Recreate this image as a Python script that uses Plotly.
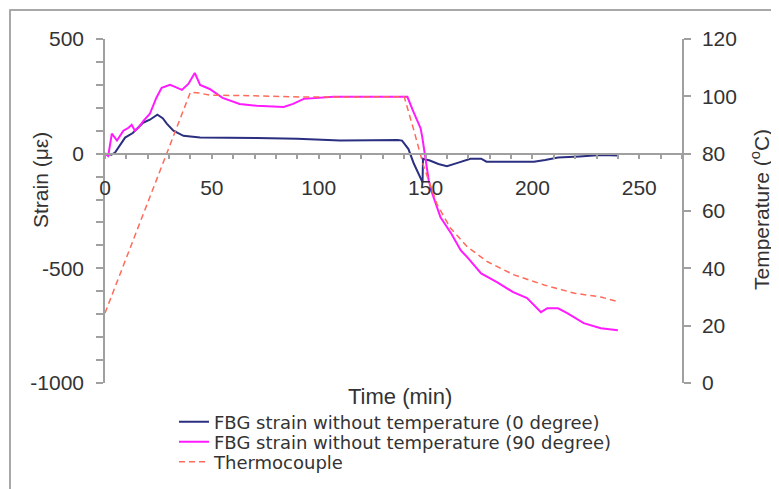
import plotly.graph_objects as go

# ---------------- data ----------------
t_fbg0 = [0, 3, 4.7, 7, 9.4, 13, 17.8, 21, 24.5, 27, 29, 32, 36.7, 44.5, 55, 71, 90,
          110, 125, 137, 139, 142, 144.5, 147, 148.6, 148.8, 152, 156, 160, 165, 171,
          176, 178.5, 190, 200.7, 206, 212, 222, 232, 240]
s_fbg0 = [0, -5, 5, 35, 70, 90, 135, 148, 170, 155, 130, 100, 78, 70, 70, 68, 65,
          57, 58, 60, 57, 20, -43, -90, -125, -22, -30, -45, -55, -40, -22,
          -22, -35, -35, -35, -28, -17, -12, -6, -8]

t_fbg90 = [0, 1.5, 3.2, 5.6, 8.6, 11, 12.5, 14, 15.6, 18, 21, 24, 26.5, 30.4, 32.8,
           36, 39, 42, 44.5, 49, 55, 63, 71, 83.6, 88, 93, 107, 130, 141.5, 144,
           147.7, 148.5, 150, 151.5, 153, 157, 162, 166.5, 169.6, 176, 183.6, 191,
           197.5, 204, 207, 212, 216.5, 224, 232, 240]
s_fbg90 = [0, -10, 87, 57, 100, 113, 126, 100, 113, 143, 174, 243, 287, 300, 291,
           278, 304, 352, 300, 282, 243, 217, 209, 204, 217, 239, 248, 248, 248, 190,
           110, 70, -17, -117, -170, -278, -348, -422, -452, -522, -561, -604,
           -630, -691, -674, -674, -696, -739, -761, -770]

t_tc = [0, 40, 44.5, 49, 70, 91, 120, 140, 144.5, 147.7, 149.2, 155.5, 161.7,
        169.5, 179, 191.4, 205.5, 219.7, 232, 240]
T_tc = [24.4, 101.5, 101.1, 100.4, 100.2, 99.8, 99.8, 99.9, 88.2, 80.1, 75.4, 62.1,
        54.0, 47.5, 42.3, 37.7, 34.2, 31.3, 30.0, 28.4]

names = ["FBG strain without temperature (0 degree)",
         "FBG strain without temperature (90 degree)",
         "Thermocouple"]

strain_ticks = [-1000, -500, 0, 500]
strain_tick_labels = ["-1000", "-500", "0", "500"]

# ---------------- layout constants (page pixels) ----------------
PAGE_W, PAGE_H = 779, 489
OFF = 8                       # default body margin of the html page
W, H = PAGE_W - OFF, PAGE_H - OFF
PLOT_L, PLOT_R, PLOT_T, PLOT_B = 105, 682, 39, 383   # page coords of plot area
ML, MR = PLOT_L - OFF, W - (PLOT_R - OFF)
MT, MB = PLOT_T - OFF, H - (PLOT_B - OFF)
PW, PH = PLOT_R - PLOT_L, PLOT_B - PLOT_T
FONT = "Liberation Sans, Arial, sans-serif"
LEG_FONT = "DejaVu Sans, Liberation Sans, sans-serif"
AX = "#a0a0a0"
TXT = "#333333"


def px_x(px):
    return (px - PLOT_L) / PW


def px_y(py):
    return (PLOT_B - py) / PH


fig = go.Figure()
fig.add_trace(go.Scatter(x=t_fbg0, y=s_fbg0, name=names[0], mode="lines",
                         legend="legend", line=dict(color="#2b2f80", width=2)))
fig.add_trace(go.Scatter(x=t_fbg90, y=s_fbg90, name=names[1], mode="lines",
                         legend="legend2", line=dict(color="#ff1aff", width=2)))
fig.add_trace(go.Scatter(x=t_tc, y=T_tc, name=names[2], mode="lines", yaxis="y2",
                         legend="legend3",
                         line=dict(color="#ff6a5a", width=1.5, dash="6px,4px")))

leg_common = dict(xanchor="left", yanchor="middle", bgcolor="rgba(0,0,0,0)",
                  font=dict(family=LEG_FONT, size=18, color=TXT), borderwidth=0)

fig.update_layout(
    width=W, height=H,
    margin=dict(l=ML, r=MR, t=MT, b=MB, pad=0, autoexpand=False),
    paper_bgcolor="white", plot_bgcolor="white",
    font=dict(family=FONT, size=21, color=TXT),
    xaxis=dict(range=[0, 270], anchor="free", position=2 / 3,
               showline=True, linecolor=AX, linewidth=1.5,
               ticks="outside", ticklen=5, tickcolor=AX, tickwidth=1.5,
               tick0=0, dtick=50, ticklabelstandoff=10,
               minor=dict(dtick=10, ticks="outside", ticklen=5, tickcolor=AX),
               showgrid=False, zeroline=False,
               tickfont=dict(size=21, color=TXT)),
    yaxis=dict(range=[-1000, 500], showline=True, linecolor=AX, linewidth=1.5,
               ticks="outside", ticklen=7, tickcolor=AX, tickwidth=1.5,
               tickmode="array", tickvals=strain_ticks, ticktext=strain_tick_labels,
               ticklabelstandoff=8,
               minor=dict(tickmode="linear", tick0=0, dtick=100, ticks="outside",
                          ticklen=7, tickcolor=AX),
               showgrid=False, zeroline=False,
               tickfont=dict(size=21, color=TXT)),
    yaxis2=dict(range=[0, 120], overlaying="y", side="right", anchor="x",
                showline=True, linecolor=AX, linewidth=1.5,
                ticks="outside", ticklen=7, tickcolor=AX, tickwidth=1.5,
                tick0=0, dtick=20, ticklabelstandoff=7,
                showgrid=False, zeroline=False,
                tickfont=dict(size=21, color=TXT)),
    yaxis3=dict(range=[0, 120], overlaying="y", side="right", anchor="x",
                showline=False, ticks="inside", ticklen=7, tickcolor=AX,
                tickwidth=1.5, tick0=0, dtick=20, showticklabels=False,
                showgrid=False, zeroline=False),
    legend=dict(x=px_x(174), y=px_y(422), **leg_common),
    legend2=dict(x=px_x(174), y=px_y(442), **leg_common),
    legend3=dict(x=px_x(174), y=px_y(462), **leg_common),
    showlegend=True,
)

fig.add_annotation(text="Time (min)", x=px_x(400), y=px_y(396), xref="paper", yref="paper",
                   xanchor="center", yanchor="middle",
                   showarrow=False, font=dict(size=22, color=TXT))
fig.add_annotation(text="Strain (με)", x=px_x(41), y=px_y(180), xref="paper", yref="paper",
                   xanchor="center", yanchor="middle",
                   showarrow=False, textangle=-90, font=dict(size=21, color=TXT))
fig.add_annotation(text="Temperature (<sup>o</sup>C)", x=px_x(760), y=px_y(210),
                   xref="paper", yref="paper", xanchor="center", yanchor="middle",
                   showarrow=False, textangle=-90,
                   font=dict(size=21, color=TXT))

# outer frame: top and left edges of the reference's grey border
fig.add_shape(type="line", xref="paper", yref="paper", layer="above",
              x0=px_x(9.5), x1=px_x(PAGE_W), y0=px_y(10), y1=px_y(10),
              line=dict(color="#a8a8a8", width=2))
fig.add_shape(type="line", xref="paper", yref="paper", layer="above",
              x0=px_x(10), x1=px_x(10), y0=px_y(9.5), y1=px_y(PAGE_H),
              line=dict(color="#a8a8a8", width=2))

fig.write_html("out.html")
